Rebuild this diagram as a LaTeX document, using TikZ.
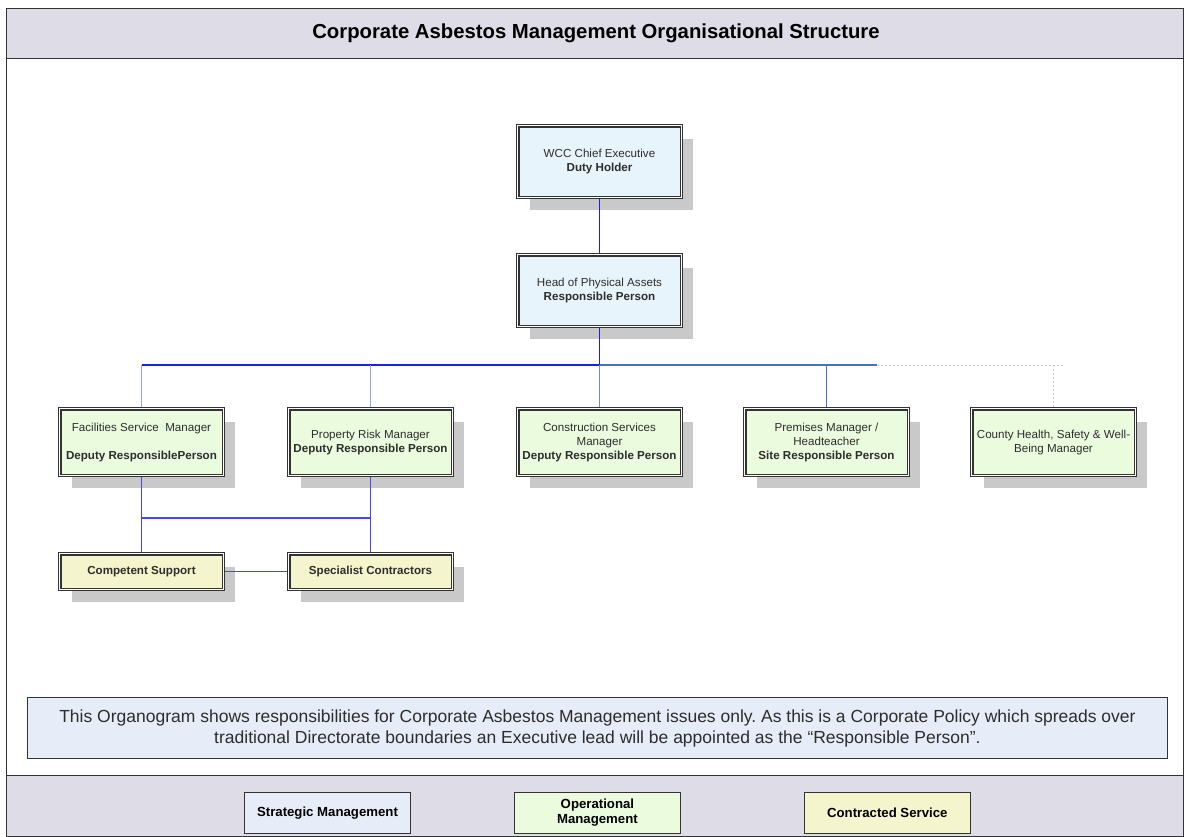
\documentclass[tikz,border=0pt]{standalone}
\usepackage{fontspec}
\setmainfont{Liberation Sans}
\usepackage{tikz}
\usetikzlibrary{positioning,shadows}

\definecolor{bandgray}{RGB}{222,220,230}
\definecolor{noteblue}{RGB}{230,236,248}
\definecolor{stratblue}{RGB}{232,244,252}
\definecolor{opgreen}{RGB}{234,251,222}
\definecolor{contyellow}{RGB}{244,245,204}
\definecolor{textgray}{RGB}{45,45,45}
\definecolor{busblue}{RGB}{30,30,235}
\definecolor{lowblue}{RGB}{70,70,245}
\definecolor{paleblue}{RGB}{143,170,220}
\definecolor{steelblue}{RGB}{75,110,205}
\definecolor{slateblue}{RGB}{120,140,170}
\definecolor{dashgray}{RGB}{190,200,220}

\begin{document}
\frenchspacing
\begin{tikzpicture}[x=1pt,y=-1pt,
    post/.style={draw=black!80,double=white,line width=1.1pt,double distance=1.3pt,
        minimum width=163.5pt,align=center,text=textgray,outer sep=1.75pt,
        font=\fontsize{11.6}{14}\selectfont,
        general shadow={fill=black!21,shadow xshift=12pt,shadow yshift=-13pt}},
    strategic/.style={post,fill=stratblue,minimum height=71.5pt},
    operational/.style={post,fill=opgreen,minimum height=66.5pt},
    contracted/.style={post,fill=contyellow,minimum height=35.5pt,
        font=\bfseries\fontsize{11.6}{14}\selectfont},
    key/.style={draw=black!80,line width=0.9pt,minimum width=166pt,minimum height=41pt,
        align=center,font=\bfseries\fontsize{13.2}{15}\selectfont},
    busline/.style={draw=busblue,line width=1.3pt},
    lowline/.style={draw=lowblue,line width=1.3pt},
    dashline/.style={draw=dashgray,line width=1pt,dash pattern=on 2pt off 2pt},
    band/.style={fill=bandgray,draw=black!80,line width=0.9pt}]
    \useasboundingbox (0,0) rectangle (1184,836);

    % frame, heading and key bands
    \draw[black!80,line width=0.9pt] (6,8) rectangle (1183,836);
    \draw[band] (6,8) rectangle (1183,58);
    \draw[band] (6,775) rectangle (1183,836);
    \node[font=\bfseries\fontsize{20.3}{24}\selectfont](title) at (596,33)
        {Corporate Asbestos Management Organisational Structure};

    % organogram
    \node[strategic](chief) at (599.5,161.5){WCC Chief Executive\\\textbf{Duty Holder}};
    \node[strategic](head)[below =54pt of chief]{Head of Physical Assets\\\textbf{Responsible Person}};
    \node[operational](csm)[below =79pt of head]{Construction Services\\Manager\\\textbf{Deputy Responsible Person}};
    \node[operational](prm)[left =62pt of csm]{Property Risk Manager\\\textbf{Deputy Responsible Person}};
    \node[operational](fsm)[left =62pt of prm]{Facilities Service~ Manager\\[14pt]\textbf{Deputy ResponsiblePerson}};
    \node[operational](pm)[right =60pt of csm]{Premises Manager /\\Headteacher\\\textbf{Site Responsible Person}};
    \node[operational](chs)[right =60pt of pm]{County Health, Safety \& Well-\\Being Manager};
    \node[contracted](cs)[below =75pt of fsm]{Competent Support};
    \node[contracted](sc)[below =75pt of prm]{Specialist Contractors};

    \coordinate (bus) at (0,365);
    \coordinate (busmid) at (877,365);
    \coordinate (busend) at (1063,365);
    \coordinate (split) at (0,518);

    \draw[busline] (chief) -- (head);
    \draw[busline] (head) -- (head |- bus);
    \draw[busline] (fsm |- bus) -- (head |- bus);
    \draw[draw=steelblue,line width=1.2pt] (head |- bus) -- (busmid);
    \draw[dashline] (busmid) -- (busend);
    \path[draw=paleblue,line width=1.3pt](fsm |- bus) edge (fsm)
                                         (prm |- bus) edge (prm);
    \path[draw=slateblue,line width=1pt](csm |- bus) edge (csm);
    \path[draw=steelblue,line width=1.2pt](pm |- bus) edge (pm);
    \draw[dashline] (chs |- bus) -- (chs);

    \draw[lowline] (fsm) -- (fsm |- split) -- (prm |- split);
    \draw[lowline] (fsm |- split) -- (cs);
    \draw[lowline] (prm) -- (sc);
    \draw[lowline] (cs) -- (sc);

    % note
    \node[draw=black!80,line width=0.9pt,fill=noteblue,minimum width=1140pt,minimum height=61pt,
        align=center,text=textgray,font=\fontsize{17.5}{21}\selectfont](note) at (597.5,728)
        {This Organogram shows responsibilities for Corporate Asbestos Management issues only. As this is a Corporate Policy which spreads over\\
         traditional Directorate boundaries an Executive lead will be appointed as the “Responsible Person”.};

    % key
    \node[key,fill=noteblue](strat) at (327.5,813){Strategic Management};
    \node[key,fill=opgreen](oper)[right =103pt of strat]{Operational\\Management};
    \node[key,fill=contyellow](cont)[right =123pt of oper]{Contracted Service};
\end{tikzpicture}
\end{document}
